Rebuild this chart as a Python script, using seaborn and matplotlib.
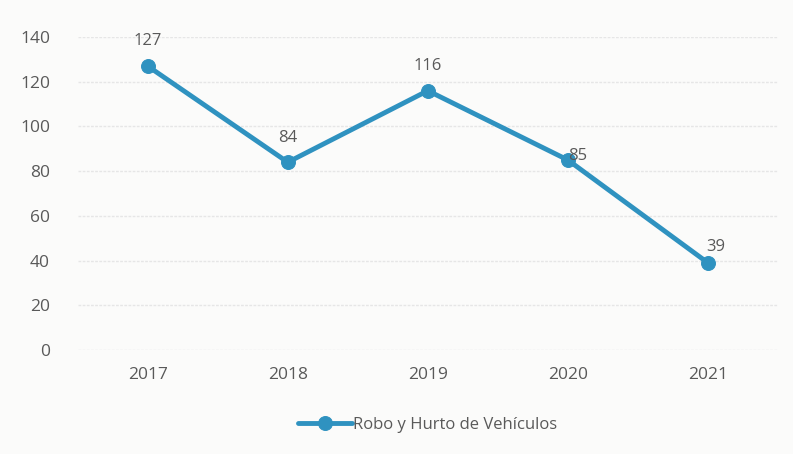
import pandas as pd
import seaborn as sns
import matplotlib.pyplot as plt

# Daten aus dem Diagramm
jahre = ["2017", "2018", "2019", "2020", "2021"]
werte = [127, 84, 116, 85, 39]
serie = "Robo y Hurto de Vehículos"

df = pd.DataFrame({"Jahr": jahre, "Anzahl": werte})

sns.set_style("white")
plt.rcParams["font.family"] = ["Open Sans", "DejaVu Sans"]

linienfarbe = "#2F92C0"
textfarbe = "#595959"

fig = plt.figure(figsize=(7.93, 4.54), dpi=100, facecolor="#FBFBFA")
ax = fig.add_axes([0.098, 0.229, 0.883, 0.6894])
ax.set_facecolor("#FBFBFA")

sns.lineplot(data=df, x="Jahr", y="Anzahl", ax=ax, color=linienfarbe,
             linewidth=3.5, marker="o", markersize=10, markeredgecolor=linienfarbe,
             label=serie, sort=False)

# Datenbeschriftungen (2020 rechts vom Punkt, sonst darüber)
versatz = [(0, 12), (0, 12), (0, 12), (0, -3), (6, 6)]
for i, v in enumerate(werte):
    dx, dy = versatz[i]
    ax.annotate(str(v), (i, v), textcoords="offset points", xytext=(dx, dy),
                ha="left" if i == 3 else "center", va="bottom",
                fontsize=12, color=textfarbe)

ax.set_xlim(-0.5, 4.5)
ax.set_ylim(0, 140)
ax.set_yticks(range(0, 141, 20))
ax.yaxis.grid(True, color="#E6E6E6", linewidth=1, linestyle=(0, (2, 1)))
ax.set_axisbelow(True)
for s in ax.spines.values():
    s.set_visible(False)
ax.tick_params(axis="both", length=0, labelsize=12.5, labelcolor=textfarbe)
ax.tick_params(axis="x", pad=12)
ax.tick_params(axis="y", pad=20)
ax.set_xlabel("")
ax.set_ylabel("")

leg = ax.legend(loc="upper center", bbox_to_anchor=(0.5, -0.165), frameon=False,
                fontsize=12, handlelength=3.2, handletextpad=0.1)
for t in leg.get_texts():
    t.set_color(textfarbe)

fig.savefig("out.png", dpi=100, facecolor=fig.get_facecolor())
